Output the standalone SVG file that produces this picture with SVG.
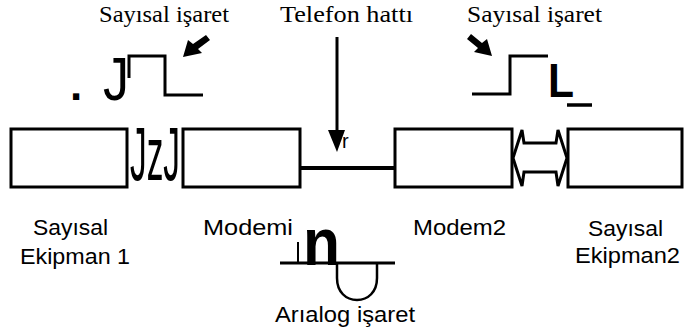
<svg xmlns="http://www.w3.org/2000/svg" width="693" height="331" viewBox="0 0 693 331">
  <style>
    .box { fill: #fff; stroke: #000; stroke-width: 3; }
    .serif { font-family: "Liberation Serif", "Times New Roman", serif; font-size: 24px; fill: #000; }
    .sans { font-family: "Liberation Sans", Arial, sans-serif; font-size: 22px; fill: #000; }
    .wave { fill: none; stroke: #000; stroke-width: 3; stroke-linejoin: miter; }
    .line { fill: none; stroke: #000; }
  </style>

  <rect width="693" height="331" fill="#fff"/>

  <!-- header captions -->
  <text class="serif" x="99" y="22" textLength="130" lengthAdjust="spacingAndGlyphs">Sayısal işaret</text>
  <text class="serif" x="280" y="22" textLength="133" lengthAdjust="spacingAndGlyphs">Telefon hattı</text>
  <text class="serif" x="467" y="22" textLength="135" lengthAdjust="spacingAndGlyphs">Sayısal işaret</text>

  <!-- digital waveform, left -->
  <g id="wave-left">
    <text class="sans" x="70" y="100" style="font-size:44px;font-weight:bold">.</text>
    <text class="sans" x="103" y="100" style="font-size:62px" textLength="26" lengthAdjust="spacingAndGlyphs">J</text>
    <polyline class="wave" points="129,78 129,56 165,56 165,95 203,95"/>
  </g>

  <!-- digital waveform, right -->
  <g id="wave-right">
    <polyline class="wave" points="472,94 510,94 510,56 548,56"/>
    <text class="sans" x="548" y="97" style="font-size:48px;font-weight:bold" textLength="26" lengthAdjust="spacingAndGlyphs">L</text>
    <line class="line" x1="567" y1="105" x2="592" y2="105" stroke-width="3.5"/>
  </g>

  <!-- analog waveform -->
  <g id="wave-analog">
    <polyline class="line" points="280,263 395,263" stroke-width="3"/>
    <line class="line" x1="298" y1="263" x2="298" y2="242" stroke-width="2"/>
    <path class="line" stroke-width="2.5" d="M337,263 V278 C337,292 346,300 357,300 C368,300 377,292 377,278 V263"/>
    <text class="sans" x="303" y="265" style="font-size:66px;font-weight:bold" textLength="37" lengthAdjust="spacingAndGlyphs">n</text>
  </g>

  <!-- equipment and modems -->
  <g id="equipment1">
    <rect class="box" x="11" y="129" width="116" height="58"/>
    <text class="sans" x="33" y="235" textLength="75" lengthAdjust="spacingAndGlyphs">Sayısal</text>
    <text class="sans" x="20" y="264" textLength="110" lengthAdjust="spacingAndGlyphs">Ekipman 1</text>
  </g>

  <g id="modem1">
    <rect class="box" x="183" y="129" width="117" height="58"/>
    <text class="sans" x="203" y="235" textLength="90" lengthAdjust="spacingAndGlyphs">Modemi</text>
  </g>

  <g id="modem2">
    <rect class="box" x="395" y="129" width="117" height="58"/>
    <text class="sans" x="413" y="235" textLength="93" lengthAdjust="spacingAndGlyphs">Modem2</text>
  </g>

  <g id="equipment2">
    <rect class="box" x="568" y="129" width="114" height="58"/>
    <text class="sans" x="588" y="236" textLength="75" lengthAdjust="spacingAndGlyphs">Sayısal</text>
    <text class="sans" x="575" y="263" textLength="105" lengthAdjust="spacingAndGlyphs">Ekipman2</text>
  </g>

  <!-- link between first equipment and modem -->
  <text class="sans" x="130" y="180" style="font-size:76px" textLength="50" lengthAdjust="spacingAndGlyphs">JzJ</text>

  <text class="sans" x="275" y="322" textLength="140" lengthAdjust="spacingAndGlyphs">Arıalog işaret</text>

  <!-- connectors -->
  <g id="connectors">
    <!-- telephone line -->
    <line class="line" x1="300" y1="168" x2="395" y2="168" stroke-width="4"/>
    <!-- line pointer -->
    <line class="line" x1="337" y1="37" x2="337" y2="134" stroke-width="3"/>
    <polygon points="328,130 345,130 337,152" fill="#000"/>
    <text class="sans" x="342" y="148" style="font-size:20px">r</text>
    <!-- double arrow between modem and equipment -->
    <polygon fill="#fff" stroke="#000" stroke-width="3" stroke-linejoin="miter"
             points="513,158 522,130 524,143 556,143 558,130 567,158 558,186 556,172 524,172 522,186"/>
    <!-- signal pointers -->
    <polygon fill="#000" points="183,57 188,40 193,44 206,35 210,40 198,49 202,53"/>
    <polygon fill="#000" points="492,56 487,39 482,43 471,34 467,39 478,48 474,52"/>
  </g>
</svg>
